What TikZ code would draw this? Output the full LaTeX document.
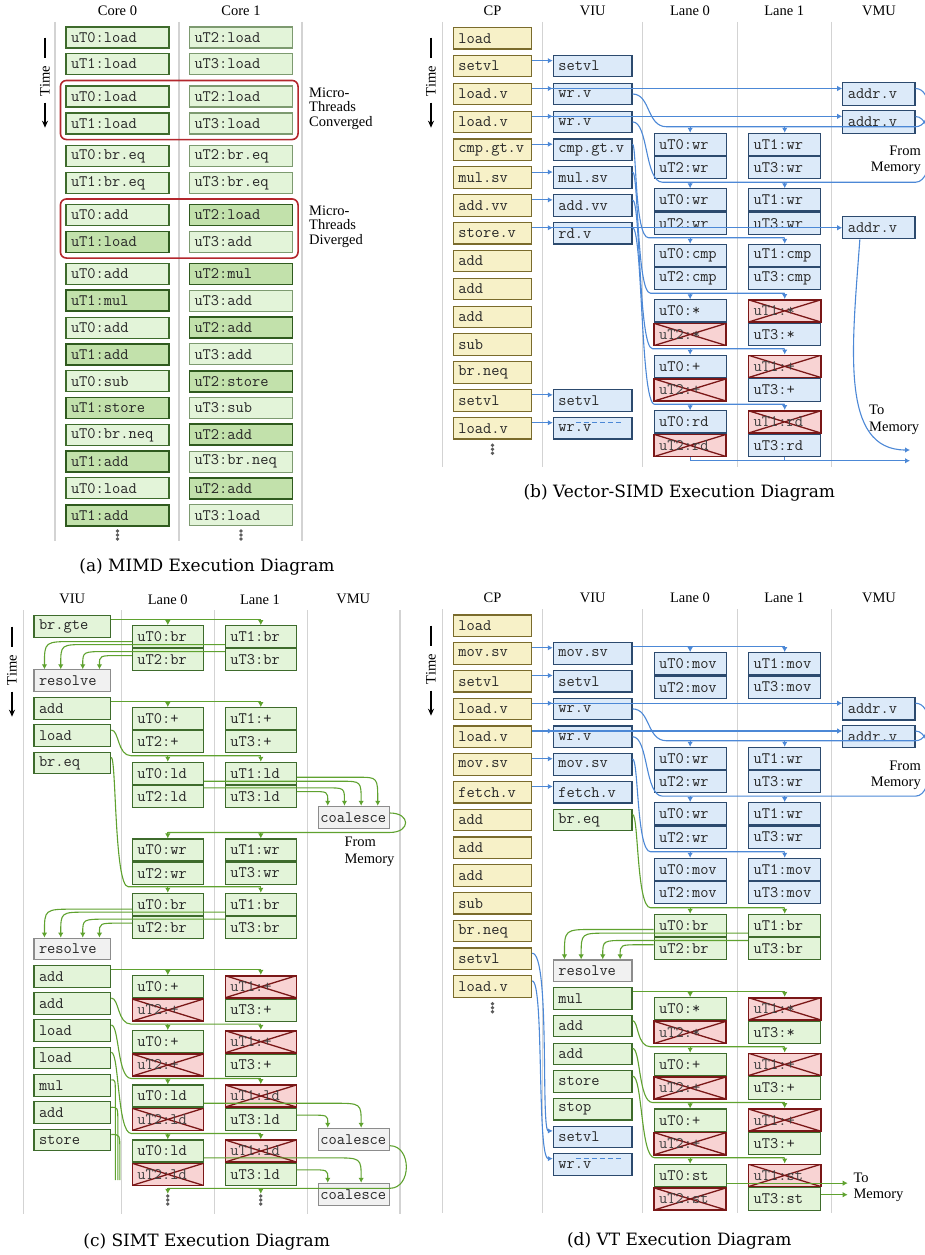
\documentclass[tikz,border=0pt]{standalone}
\usepackage{fontspec}
\newfontfamily\labfont{Liberation Serif}
\newfontfamily\capfont{DejaVu Serif}
\usetikzlibrary{arrows.meta, positioning, calc, fit}

\definecolor{gfill}{HTML}{E3F4D9}
\definecolor{gdark}{HTML}{C2E1AB}
\definecolor{gline}{HTML}{3E6B2C}
\definecolor{gpale}{HTML}{7D9A70}
\definecolor{gdeep}{HTML}{2F5A1E}
\definecolor{bfill}{HTML}{DCEAF9}
\definecolor{bline}{HTML}{2C4A6E}
\definecolor{yfill}{HTML}{F7F1C8}
\definecolor{yline}{HTML}{7A6B2C}
\definecolor{rfill}{HTML}{F8D3D3}
\definecolor{rline}{HTML}{7A1717}
\definecolor{kfill}{HTML}{F1F1F1}
\definecolor{kline}{HTML}{8C8C8C}
\definecolor{barrow}{HTML}{4C88D6}
\definecolor{garrow}{HTML}{5FA22F}
\definecolor{redring}{HTML}{B3272D}
\definecolor{divider}{HTML}{D3D3D3}
\definecolor{dotgray}{HTML}{5C5C5C}

% time axis: name, x, top
\newcommand{\timeline}[3]{
    \draw[line width=1.4pt] (#2,#3) -- ++(0,20);
    \node[lab, rotate=90] (#1) at (#2,#3+43.5) {Time};
    \draw[line width=1.4pt, -{Stealth[length=7pt,width=6pt]}] (#2,#3+65) -- ++(0,25);
}
% vertical ellipsis
\newcommand{\moredots}[2]{
    \foreach \dd in {-4,0,4} \fill[dotgray] ($(#1,#2)+(0,\dd)$) circle (1.9);
}
% horizontal run, then bend onto a box top
\newcommand{\bendto}[4]{
    \draw[#1] (#2) -- ($(#3 |- #2)+(#4,0)$) .. controls (#3 |- #2) .. (#3);
}
% S-curve from an issue box down to a lane bus
\newcommand{\feedto}[5]{
    \draw[#1] (#2) .. controls +(#5,0) and +(-14,0) .. ($(#2 |- #3)+(#5+12,0)$) -- (#3 -| #4.north);
}

\begin{document}
\begin{tikzpicture}[x=1pt, y=-1pt,
    box/.style={draw, line width=1.1pt, font=\ttfamily\fontsize{16}{16}\selectfont, text=black!85, inner xsep=5pt, inner ysep=0pt, align=left},
    abox/.style={box, text width=93pt, minimum height=21pt},
    idle/.style={fill=gfill, draw=gline},
    idleb/.style={fill=gfill, draw=gpale},
    busy/.style={fill=gdark, draw=gdeep, line width=1.8pt},
    cpbox/.style={box, fill=yfill, draw=yline, text width=68.4pt, minimum height=21.5pt},
    viubox/.style={box, text width=68.7pt, minimum height=21.5pt},
    lanebox/.style={box, text width=62.2pt, minimum height=22.2pt},
    cviu/.style={box, text width=66.7pt, minimum height=21.7pt},
    clane/.style={box, text width=61pt, minimum height=22pt},
    coal/.style={box, fill=kfill, draw=kline, text width=67pt, inner xsep=2pt, minimum height=22.4pt},
    bbox/.style={fill=bfill, draw=bline},
    gbox/.style={fill=gfill, draw=gline},
    kbox/.style={fill=kfill, draw=kline},
    xbox/.style={fill=rfill, draw=rline, line width=1.6pt, text=black!75,
        path picture={\draw[rline, line width=1.3pt] (path picture bounding box.north west) -- (path picture bounding box.south east) (path picture bounding box.south west) -- (path picture bounding box.north east);}},
    ring/.style={draw=redring, line width=1.6pt, rounded corners=6pt, inner sep=5pt},
    lab/.style={font=\labfont\fontsize{14.5}{16.5}\selectfont, inner sep=0pt},
    captext/.style={font=\capfont\fontsize{17}{20}\selectfont, inner sep=0pt},
    colsep/.style={draw=divider, line width=1.4pt},
    barr/.style={draw=barrow, line width=1.1pt, -{Latex[length=5pt,width=5.5pt]}},
    bwire/.style={draw=barrow, line width=1.1pt},
    garr/.style={draw=garrow, line width=1.1pt, -{Latex[length=5pt,width=5.5pt]}},
    gwire/.style={draw=garrow, line width=1.1pt}
]
\useasboundingbox (0,0) rectangle (925,1255);
\clip (0,0) rectangle (925,1255);

%% ===== (a) MIMD =====
\foreach \x in {55,179,302} \draw[colsep] (\x,22) -- (\x,541);
\node[lab] (hdA0) at (117.5,11) {Core 0};
\node[lab] (hdA1) at (241,11) {Core 1};
\timeline{timeA}{45}{37.7}

\foreach \ii/\yy/\ta/\sA/\tb/\sB in {
    1/37.5/uT0:load/idle/uT2:load/idleb,
    2/64/uT1:load/idle/uT3:load/idleb,
    3/96.5/uT0:load/idle/uT2:load/idleb,
    4/123.5/uT1:load/idle/uT3:load/idleb,
    5/156/uT0:br.eq/idle/uT2:br.eq/idleb,
    6/183/uT1:br.eq/idle/uT3:br.eq/idleb,
    7/215/uT0:add/idle/uT2:load/busy,
    8/242/uT1:load/busy/uT3:add/idleb,
    9/274/uT0:add/idle/uT2:mul/busy,
    10/300.8/uT1:mul/busy/uT3:add/idleb,
    11/327.6/uT0:add/idle/uT2:add/busy,
    12/354.4/uT1:add/busy/uT3:add/idleb,
    13/381.2/uT0:sub/idle/uT2:store/busy,
    14/408/uT1:store/busy/uT3:sub/idleb,
    15/434.8/uT0:br.neq/idle/uT2:add/busy,
    16/461.6/uT1:add/busy/uT3:br.neq/idleb,
    17/488.4/uT0:load/idle/uT2:add/busy,
    18/515.2/uT1:add/busy/uT3:load/idleb} {
    \node[abox, \sA] (c0r\ii) at (117.5,\yy) {\ta};
    \node[abox, \sB] (c1r\ii) at (241,\yy) {\tb};
}

% converged / diverged groups
\node[ring, fit=(c0r3)(c1r4)] (convA) {};
\node[ring, fit=(c0r7)(c1r8)] (divA) {};
\node[lab, anchor=west, align=left, font=\labfont\fontsize{14.5}{14.5}\selectfont] (convLab) at (309,108.7) {Micro-\\Threads\\Converged};
\node[lab, anchor=west, align=left, font=\labfont\fontsize{14.5}{14.5}\selectfont] (divLab) at (309,226.7) {Micro-\\Threads\\Diverged};

\moredots{117.5}{535}
\moredots{241}{535}
\node[captext] (capA) at (207,567) {(a) MIMD Execution Diagram};

%% ===== (b) Vector-SIMD =====
\foreach \x in {442.7,542.7,642.7,737.3,831.7} \draw[colsep] (\x,22) -- (\x,466.7);
\foreach \x/\nm/\txt in {492.5/hdB0/CP, 592.7/hdB1/VIU, 690/hdB2/Lane 0, 784.3/hdB3/Lane 1, 879/hdB4/VMU}
    \node[lab] (\nm) at (\x,11) {\txt};
\timeline{timeB}{431}{37.7}

% control processor
\foreach \kk/\txt in {0/load,1/setvl,2/load.v,3/load.v,4/cmp.gt.v,5/mul.sv,6/add.vv,7/store.v,8/add,9/add,10/add,11/sub,12/br.neq,13/setvl,14/load.v}
    \node[cpbox] (cpB\kk) at (492.5,38.3+27.85*\kk) {\txt};
% vector issue unit
\foreach \kk/\txt in {1/setvl,2/wr.v,3/wr.v,4/cmp.gt.v,5/mul.sv,6/add.vv,7/rd.v,13/setvl,14/wr.v}
    \node[viubox, bbox] (viuB\kk) at (592.65,38.3+27.85*\kk) {\txt};
% memory unit
\node[lanebox, bbox] (vmuB1) at (878.85,94) {addr.v};
\node[lanebox, bbox] (vmuB2) at (878.85,122) {addr.v};
\node[lanebox, bbox] (vmuB3) at (878.85,227.7) {addr.v};
% lanes
\foreach \p/\yt/\tx/\sA/\sB/\sC/\sD in {1/133.3/wr/bbox/bbox/bbox/bbox, 2/188.8/wr/bbox/bbox/bbox/bbox, 3/244.3/cmp/bbox/bbox/bbox/bbox, 4/299.8/*/bbox/xbox/xbox/bbox, 5/355.3/+/bbox/xbox/xbox/bbox, 6/410.8/rd/bbox/xbox/xbox/bbox} {
    \node[lanebox, \sA] (l0Bt\p) at (690.15,\yt+11.1) {uT0:\tx};
    \node[lanebox, \sB, below=0pt of l0Bt\p] (l0Bb\p) {uT2:\tx};
    \node[lanebox, \sC] (l1Bt\p) at (784.7,\yt+11.1) {uT1:\tx};
    \node[lanebox, \sD, below=0pt of l1Bt\p] (l1Bb\p) {uT3:\tx};
    \coordinate (busB\p) at ([yshift=6pt]l0Bt\p.north);
}

% CP to VIU
\foreach \kk in {1,2,3,4,5,6,7,13,14} {
    \coordinate (s) at ([yshift=5.5pt]cpB\kk.east);
    \draw[barr] (s) -- (s -| viuB\kk.west);
}
\coordinate (s) at ([yshift=5.5pt]cpB2.east);
\draw[barr] (s) -- (s -| vmuB1.west);
\coordinate (s) at ([yshift=5.5pt]cpB3.east);
\draw[barr] (s) -- (s -| vmuB2.west);
\coordinate (s) at ([yshift=5.5pt]cpB7.east);
\draw[barr] (s) -- (s -| vmuB3.west);
\draw[bwire, dash pattern=on 5pt off 3pt] ([yshift=5.5pt]viuB14.west) ++(23,0) -- ++(45,0);

% VIU to lanes, memory returns
\draw[bwire] (viuB2.east) .. controls +(18,0) and +(-20,0) .. ($(viuB2.east |- busB1)+(34,0)$) -- (busB1 -| vmuB1.east) .. controls +(17,0) and +(17,0) .. ([yshift=5.5pt]vmuB1.east);
\draw[bwire] (viuB3.east) .. controls +(16,0) and +(-18,0) .. ($(viuB3.east |- busB2)+(30,0)$) -- (busB2 -| vmuB2.east) .. controls +(20,0) and +(20,0) .. ([yshift=5.5pt]vmuB2.east);
\foreach \p/\vi/\dx in {3/4/4, 4/5/6, 5/6/8, 6/7/10} {
    \coordinate (f) at ([yshift=5.5pt]viuB\vi.east);
    \feedto{bwire}{f}{busB\p}{l1Bt\p}{\dx}
}
\foreach \p in {1,...,6} {
    \draw[barr] (busB\p) -- (l0Bt\p.north);
    \draw[barr] (busB\p -| l1Bt\p.north) -- (l1Bt\p.north);
}

% to memory
\coordinate (memB) at (910,460.7);
\coordinate (memBa) at (910,450);
\draw[barr] (l0Bb6.south) |- (memB);
\draw[bwire] (l1Bb6.south) -- (l1Bb6.south |- memB);
\draw[barr] ([xshift=-19pt]vmuB3.south) .. controls +(-8,110) and +(-70,0) .. (memBa);
\node[lab, anchor=east, align=right] (fromMemB) at (921,160.5) {From\\Memory};
\node[lab, anchor=west, align=left] (toMemB) at (869,420) {To\\Memory};

\moredots{492.5}{449.3}
\node[captext] (capB) at (679.3,493.3) {(b) Vector-SIMD Execution Diagram};

%% ===== (c) SIMT =====
\foreach \x in {23.3,121.7,214.3,307.3,400} \draw[colsep] (\x,610) -- (\x,1214);
\foreach \x/\nm/\txt in {72.3/hdC0/VIU, 167.7/hdC1/Lane 0, 260/hdC2/Lane 1, 353.3/hdC3/VMU}
    \node[lab] (\nm) at (\x,599.3) {\txt};
\timeline{timeC}{12}{626.7}

% issue unit
\foreach \nm/\yy/\txt/\st in {1/626.7/br.gte/gbox, 2/680.7/resolve/kbox, 3/708.3/add/gbox, 4/735.7/load/gbox, 5/763/br.eq/gbox, 6/949/resolve/kbox, 7/976.3/add/gbox, 8/1003.7/add/gbox, 9/1030.7/load/gbox, 10/1058/load/gbox, 11/1085.3/mul/gbox, 12/1112.7/add/gbox, 13/1140/store/gbox}
    \node[cviu, \st] (viuC\nm) at (72.35,\yy) {\txt};
% lanes
\foreach \p/\yt/\tx/\sA/\sB/\sC/\sD in {1/625.7/br/gbox/gbox/gbox/gbox, 2/707.7/+/gbox/gbox/gbox/gbox, 3/762.3/ld/gbox/gbox/gbox/gbox, 4/839/wr/gbox/gbox/gbox/gbox, 5/893.3/br/gbox/gbox/gbox/gbox, 6/975.7/+/gbox/xbox/xbox/gbox, 7/1030.7/+/gbox/xbox/xbox/gbox, 8/1085/ld/gbox/xbox/xbox/gbox, 9/1140/ld/gbox/xbox/xbox/gbox} {
    \node[clane, \sA] (l0Ct\p) at (167.8,\yt+11) {uT0:\tx};
    \node[clane, \sB, below=0pt of l0Ct\p] (l0Cb\p) {uT2:\tx};
    \node[clane, \sC] (l1Ct\p) at (260.8,\yt+11) {uT1:\tx};
    \node[clane, \sD, below=0pt of l1Ct\p] (l1Cb\p) {uT3:\tx};
    \coordinate (busC\p) at ([yshift=6pt]l0Ct\p.north);
}
\coordinate (busC10) at (167.8,1188.3);
% coalescing unit
\node[coal] (coC1) at (353.8,817.5) {coalesce};
\node[coal] (coC2) at (353.8,1139.5) {coalesce};
\node[coal] (coC3) at (353.8,1194.5) {coalesce};

% VIU to lanes
\draw[gwire] (busC1 -| viuC1.east) -- (busC1 -| l1Ct1.north);
\draw[gwire] (busC2 -| viuC3.east) -- (busC2 -| l1Ct2.north);
\draw[gwire] (busC6 -| viuC7.east) -- (busC6 -| l1Ct6.north);
\foreach \p/\vi/\dx in {3/4/8, 5/5/5, 7/8/8, 8/9/8, 9/10/8} {
    \coordinate (f) at ([yshift=5.7pt]viuC\vi.east);
    \feedto{gwire}{f}{busC\p}{l1Ct\p}{\dx}
}
\coordinate (stubC) at (0,1180);
\foreach \vi/\dx in {11/4.1, 12/6.6, 13/8.6} {
    \coordinate (f) at ([yshift=5.5pt]viuC\vi.east);
    \coordinate (g) at ([xshift=\dx pt]f);
    \draw[gwire] (f) .. controls (g) .. ([yshift=-16pt]g) -- (g |- stubC);
}
\foreach \p in {1,...,9} {
    \draw[garr] (busC\p) -- (l0Ct\p.north);
    \draw[garr] (busC\p -| l1Ct\p.north) -- (l1Ct\p.north);
}

% branch results to resolve
\foreach \p/\rr in {1/2, 5/6} {
    \coordinate (s0) at ([yshift=6.7pt]l0Ct\p.south west);
    \coordinate (s1) at ([yshift=3.7pt]l1Ct\p.south west);
    \coordinate (s3) at ([yshift=-3.3pt]l1Cb\p.north west);
    \coordinate (s2) at ([yshift=-7.3pt]l0Cb\p.north west);
    \coordinate (e0) at ([xshift=11pt]viuC\rr.north west);
    \coordinate (e1) at ([xshift=27.3pt]viuC\rr.north west);
    \coordinate (e3) at ([xshift=49.3pt]viuC\rr.north west);
    \coordinate (e2) at ([xshift=66pt]viuC\rr.north west);
    \bendto{garr}{s0}{e0}{30}
    \bendto{garr}{s1}{e1}{26}
    \bendto{garr}{s3}{e3}{24}
    \bendto{garr}{s2}{e2}{20}
}

% loads to coalesce
\coordinate (s1) at ([yshift=7.6pt]l1Ct3.south east);
\coordinate (s0) at ([yshift=3.6pt]l0Ct3.south east);
\coordinate (s2) at ([yshift=-3pt]l0Cb3.north east);
\coordinate (s3) at ([yshift=-6.7pt]l1Cb3.north east);
\coordinate (e1) at ([xshift=60pt]coC1.north west);
\coordinate (e0) at ([xshift=43.4pt]coC1.north west);
\coordinate (e2) at ([xshift=26.7pt]coC1.north west);
\coordinate (e3) at ([xshift=10pt]coC1.north west);
\bendto{garr}{s1}{e1}{-20}
\bendto{garr}{s0}{e0}{-20}
\bendto{garr}{s2}{e2}{-18}
\bendto{garr}{s3}{e3}{-16}
\foreach \p/\cc/\ya/\yb in {8/2/4.3/-7.3, 9/3/4.7/-7} {
    \coordinate (s0) at ([yshift=\ya pt]l0Ct\p.south east);
    \coordinate (s3) at ([yshift=\yb pt]l1Cb\p.north east);
    \coordinate (e0) at ([xshift=43.4pt]coC\cc.north west);
    \coordinate (e3) at ([xshift=10pt]coC\cc.north west);
    \bendto{garr}{s0}{e0}{-28}
    \bendto{garr}{s3}{e3}{-18}
}

% data back from memory
\draw[gwire] ([yshift=4.5pt]coC1.east) .. controls +(21,0) and +(21,0) .. (coC1.east |- busC4) -- (busC4);
\draw[gwire] ([yshift=-6.2pt]coC2.east) .. controls +(22,0) and +(22,0) .. (coC2.east |- busC10) -- (busC10);
\draw[garr] (busC10) -- ++(0,5.5);
\draw[garr] (busC10 -| l1Cb9.south) -- ++(0,5.5);
\node[lab, anchor=west, align=left] (fromMemC) at (344.3,851.7) {From\\Memory};

\moredots{167.8}{1200}
\moredots{260.8}{1200}
\node[captext] (capC) at (206.7,1242.3) {(c) SIMT Execution Diagram};

%% ===== (d) VT =====
\foreach \x in {442.7,542.7,642.7,737.3,831.7} \draw[colsep] (\x,609.3) -- (\x,1213.3);
\foreach \x/\nm/\txt in {492.5/hdD0/CP, 592.7/hdD1/VIU, 690/hdD2/Lane 0, 784.3/hdD3/Lane 1, 879/hdD4/VMU}
    \node[lab] (\nm) at (\x,597.7) {\txt};
\timeline{timeD}{431}{625.7}

% control processor
\foreach \kk/\txt in {0/load,1/mov.sv,2/setvl,3/load.v,4/load.v,5/mov.sv,6/fetch.v,7/add,8/add,9/add,10/sub,11/br.neq,12/setvl,13/load.v}
    \node[cpbox] (cpD\kk) at (492.5,625.7+27.75*\kk) {\txt};
% vector issue unit
\foreach \nm/\yy/\txt/\st in {1/653.5/mov.sv/bbox, 2/681.2/setvl/bbox, 3/708.9/wr.v/bbox, 4/736.7/wr.v/bbox, 5/764.4/mov.sv/bbox, 6/792.2/fetch.v/bbox, 7/819.9/br.eq/gbox, 8/970.7/resolve/kbox, 9/998.4/mul/gbox, 10/1026.1/add/gbox, 11/1053.8/add/gbox, 12/1081.5/store/gbox, 13/1109.2/stop/gbox, 14/1136.9/setvl/bbox, 15/1164.6/wr.v/bbox}
    \node[viubox, \st] (viuD\nm) at (592.65,\yy) {\txt};
% memory unit
\node[lanebox, bbox] (vmuD1) at (878.85,708.9) {addr.v};
\node[lanebox, bbox] (vmuD2) at (878.85,736.7) {addr.v};
% lanes
\foreach \p/\yt/\tx/\sA/\sB/\sC/\sD in {1/652.7/mov/bbox/bbox/bbox/bbox, 2/747.3/wr/bbox/bbox/bbox/bbox, 3/802.7/wr/bbox/bbox/bbox/bbox, 4/858.3/mov/bbox/bbox/bbox/bbox, 5/914.3/br/gbox/gbox/gbox/gbox, 6/997.7/*/gbox/xbox/xbox/gbox, 7/1053.3/+/gbox/xbox/xbox/gbox, 8/1109/+/gbox/xbox/xbox/gbox, 9/1164.3/st/gbox/xbox/xbox/gbox} {
    \node[lanebox, \sA] (l0Dt\p) at (690.15,\yt+11.1) {uT0:\tx};
    \node[lanebox, \sB, below=0pt of l0Dt\p] (l0Db\p) {uT2:\tx};
    \node[lanebox, \sC] (l1Dt\p) at (784.7,\yt+11.1) {uT1:\tx};
    \node[lanebox, \sD, below=0pt of l1Dt\p] (l1Db\p) {uT3:\tx};
    \coordinate (busD\p) at ([yshift=6pt]l0Dt\p.north);
}

% CP to VIU
\foreach \kk in {1,...,6} {
    \coordinate (s) at ([yshift=5.7pt]cpD\kk.east);
    \draw[barr] (s) -- (s -| viuD\kk.west);
}
\coordinate (s) at ([yshift=5.7pt]cpD3.east);
\draw[barr] (s) -- (s -| vmuD1.west);
\coordinate (s) at ([yshift=5.7pt]cpD4.east);
\draw[barr] (s) -- (s -| vmuD2.west);
\draw[barr] ([yshift=5.5pt]cpD12.east) .. controls +(18,0) and +(-12,0) .. ([yshift=6pt]viuD14.west);
\draw[barr] ([yshift=5.5pt]cpD13.east) .. controls +(12,0) and +(-16,0) .. ([yshift=6pt]viuD15.west);
\draw[bwire, dash pattern=on 5pt off 3pt] ([yshift=6pt]viuD15.west) ++(23,0) -- ++(45,0);

% VIU to lanes, memory returns
\draw[bwire] (busD1 -| viuD1.east) -- (busD1 -| l1Dt1.north);
\draw[bwire] (viuD3.east) .. controls +(18,0) and +(-20,0) .. ($(viuD3.east |- busD2)+(34,0)$) -- (busD2 -| vmuD1.east) .. controls +(17,0) and +(17,0) .. ([yshift=5.7pt]vmuD1.east);
\draw[bwire] (viuD4.east) .. controls +(16,0) and +(-18,0) .. ($(viuD4.east |- busD3)+(30,0)$) -- (busD3 -| vmuD2.east) .. controls +(20,0) and +(20,0) .. ([yshift=5.7pt]vmuD2.east);
\coordinate (f) at ([yshift=5.5pt]viuD5.east);
\feedto{bwire}{f}{busD4}{l1Dt4}{6}
\coordinate (f) at ([yshift=5.5pt]viuD7.east);
\feedto{gwire}{f}{busD5}{l1Dt5}{6}
\draw[gwire] (busD6 -| viuD9.east) -- (busD6 -| l1Dt6.north);
\foreach \p/\vi/\dx in {7/10/6, 8/11/8, 9/12/10} {
    \coordinate (f) at ([yshift=5.5pt]viuD\vi.east);
    \feedto{gwire}{f}{busD\p}{l1Dt\p}{\dx}
}
\foreach \p/\st in {1/barr, 2/barr, 3/barr, 4/barr, 5/garr, 6/garr, 7/garr, 8/garr, 9/garr} {
    \draw[\st] (busD\p) -- (l0Dt\p.north);
    \draw[\st] (busD\p -| l1Dt\p.north) -- (l1Dt\p.north);
}

% branch results to resolve
\coordinate (s0) at ([yshift=7.6pt]l0Dt5.south west);
\coordinate (s1) at ([yshift=3.9pt]l1Dt5.south west);
\coordinate (s3) at ([yshift=-3.4pt]l1Db5.north west);
\coordinate (s2) at ([yshift=-7.7pt]l0Db5.north west);
\coordinate (e0) at ([xshift=11.7pt]viuD8.north west);
\coordinate (e1) at ([xshift=28.4pt]viuD8.north west);
\coordinate (e3) at ([xshift=50pt]viuD8.north west);
\coordinate (e2) at ([xshift=67.4pt]viuD8.north west);
\bendto{garr}{s0}{e0}{30}
\bendto{garr}{s1}{e1}{26}
\bendto{garr}{s3}{e3}{24}
\bendto{garr}{s2}{e2}{20}

% stores to memory
\coordinate (memD) at (847.7,1187);
\coordinate (s) at ([yshift=3.9pt]l0Dt9.south east);
\draw[garr] (s) -- (s -| memD);
\coordinate (s) at ([yshift=-7.4pt]l1Db9.north east);
\draw[garr] (s) -- (s -| memD);
\node[lab, anchor=east, align=right] (fromMemD) at (921,775.3) {From\\Memory};
\node[lab, anchor=west, align=left] (toMemD) at (853.3,1187.5) {To\\Memory};

\moredots{492.5}{1007.7}
\node[captext] (capD) at (679.3,1240.7) {(d) VT Execution Diagram};

\end{tikzpicture}
\end{document}
